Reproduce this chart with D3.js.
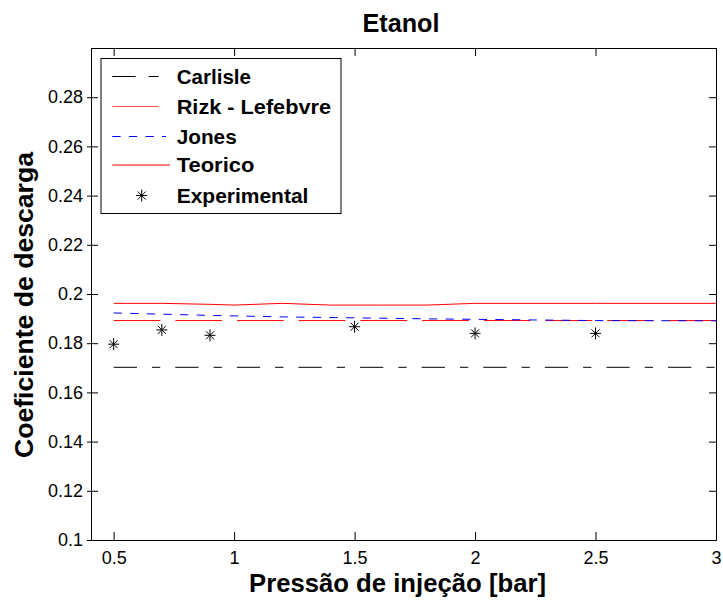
<!DOCTYPE html>
<html>
<head>
<meta charset="utf-8">
<script src="https://cdn.jsdelivr.net/npm/d3@7"></script>
<style>
  html, body { margin: 0; padding: 0; background: #fff; }
  svg { display: block; }
  text { font-family: "Liberation Sans", Arial, sans-serif; }
</style>
</head>
<body>
<svg id="chart" width="723" height="602"></svg>
<script>
// ---------- data ----------
const xTicks = [0.5, 1, 1.5, 2, 2.5, 3];
const yTicks = [0.1, 0.12, 0.14, 0.16, 0.18, 0.2, 0.22, 0.24, 0.26, 0.28];

const carlisleX = [0.5, 3.0];
const carlisleY = [0.1702, 0.1702];

const rizkX = [0.5, 3.0];
const rizkY = [0.1892, 0.1892];

const jonesX = [0.5, 0.7, 0.9, 1.0, 1.2, 1.5, 1.8, 2.0, 2.5, 3.0];
const jonesY = [0.1923, 0.1918, 0.1913, 0.1911, 0.1907, 0.1903, 0.1899, 0.1897, 0.1892, 0.1891];

const teoX = [0.5, 0.7, 0.9, 1.0, 1.2, 1.4, 1.6, 1.8, 2.0, 2.5, 3.0];
const teoY = [0.1962, 0.1962, 0.1958, 0.1955, 0.1962, 0.1955, 0.1955, 0.1955, 0.1962, 0.1962, 0.1962];

const expX = [0.5, 0.7, 0.9, 1.5, 2.0, 2.5];
const expY = [0.1796, 0.1854, 0.1832, 0.1867, 0.1840, 0.1840];

const legendLabels = ["Carlisle", "Rizk - Lefebvre", "Jones", "Teorico", "Experimental"];

// ---------- layout ----------
const svg = d3.select("#chart");
const L = 91, R = 716, T = 48, B = 540;
const x = d3.scaleLinear().domain([0.406, 3]).range([L, R]);
const y = d3.scaleLinear().domain([0.1, 0.3]).range([B, T]);

const toPts = (xs, ys) => xs.map((d, i) => [d, ys[i]]);
const line = d3.line().x(d => x(d[0])).y(d => y(d[1]));

// axes (MATLAB style: ticks inside, box)
const g = svg.append("g");
const axB = g.append("g").attr("transform", `translate(0,${B})`)
  .call(d3.axisBottom(x).tickValues(xTicks).tickSize(-8).tickPadding(11).tickFormat(d3.format("")));
const axT = g.append("g").attr("transform", `translate(0,${T})`)
  .call(d3.axisTop(x).tickValues(xTicks).tickSize(-8).tickFormat(""));
const axL = g.append("g").attr("transform", `translate(${L},0)`)
  .call(d3.axisLeft(y).tickValues(yTicks).tickSize(-7).tickPadding(8).tickFormat(d3.format("")));
const axR = g.append("g").attr("transform", `translate(${R},0)`)
  .call(d3.axisRight(y).tickValues(yTicks).tickSize(-7).tickFormat(""));
[axB, axT, axL, axR].forEach(a => {
  a.select(".domain").attr("stroke", "#000").attr("stroke-width", 1);
  a.selectAll(".tick line").attr("stroke", "#000");
  a.selectAll("text").attr("fill", "#000").attr("font-size", 18)
    .attr("font-family", '"Liberation Sans", Arial, sans-serif');
});
axB.selectAll("text").attr("dy", "0.71em");
// left outer tick stubs
axL.selectAll(".tick").append("line").attr("x1", 0).attr("x2", -4).attr("stroke", "#000");

// series
const plot = svg.append("g");
plot.append("path").datum(toPts(carlisleX, carlisleY)).attr("d", line)
  .attr("fill", "none").attr("stroke", "#000").attr("stroke-width", 1)
  .attr("stroke-dasharray", "23.3,15,8.3,15");
plot.append("path").datum(toPts(rizkX, rizkY)).attr("d", line)
  .attr("fill", "none").attr("stroke", "#ff0000").attr("stroke-width", 1)
  .attr("stroke-dasharray", "46.7,15");
plot.append("path").datum(toPts(teoX, teoY)).attr("d", line)
  .attr("fill", "none").attr("stroke", "#ff0000").attr("stroke-width", 1);
plot.append("path").datum(toPts(jonesX, jonesY)).attr("d", line)
  .attr("fill", "none").attr("stroke", "#0000ff").attr("stroke-width", 1)
  .attr("stroke-dasharray", "8.3,8.3");

function star(sel, cx, cy) {
  const s = sel.append("g").attr("transform", `translate(${cx},${cy})`)
    .attr("stroke", "#000").attr("stroke-width", 1);
  s.append("line").attr("x1", 0).attr("x2", 0).attr("y1", -6).attr("y2", 6);
  s.append("line").attr("x1", -5.5).attr("x2", 5.5).attr("y1", 0).attr("y2", 0);
  s.append("line").attr("x1", -4).attr("x2", 4).attr("y1", -4).attr("y2", 4);
  s.append("line").attr("x1", -4).attr("x2", 4).attr("y1", 4).attr("y2", -4);
}
expX.forEach((d, i) => star(plot, x(d), y(expY[i])));

// legend
const lg = svg.append("g");
lg.append("rect").attr("x", 101).attr("y", 58.5).attr("width", 240).attr("height", 155)
  .attr("fill", "#fff").attr("stroke", "#000").attr("stroke-width", 1);
const rowY = [76.5, 106.5, 136.5, 165, 195.5];
const textW = [74.3, 154.3, 60, 77.7, 131.7];
legendLabels.forEach((lab, i) => {
  lg.append("text").attr("x", 176.7).attr("y", rowY[i]).attr("dy", "0.36em")
    .attr("font-size", 20.5).attr("font-weight", "bold").attr("fill", "#000")
    .attr("textLength", textW[i]).attr("lengthAdjust", "spacingAndGlyphs")
    .text(lab);
});
lg.append("line").attr("x1", 112.3).attr("x2", 158.7).attr("y1", rowY[0]).attr("y2", rowY[0])
  .attr("stroke", "#000").attr("stroke-dasharray", "23.3,13,10.1,15");
lg.append("line").attr("x1", 112.3).attr("x2", 158.7).attr("y1", rowY[1]).attr("y2", rowY[1])
  .attr("stroke", "#ff0000").attr("stroke-opacity", 0.7);
lg.append("line").attr("x1", 112.3).attr("x2", 166).attr("y1", rowY[2]).attr("y2", rowY[2])
  .attr("stroke", "#0000ff").attr("stroke-dasharray", "8.3,8.3");
lg.append("line").attr("x1", 112.3).attr("x2", 170).attr("y1", rowY[3]).attr("y2", rowY[3])
  .attr("stroke", "#ff0000");
star(lg, 141.7, rowY[4]);

// titles
svg.append("text").attr("x", 401).attr("y", 32.3).attr("text-anchor", "middle")
  .attr("font-size", 25).attr("font-weight", "bold").attr("fill", "#000")
  .attr("textLength", 77).attr("lengthAdjust", "spacingAndGlyphs").text("Etanol");
svg.append("text").attr("x", 397.5).attr("y", 592).attr("text-anchor", "middle")
  .attr("font-size", 25).attr("font-weight", "bold").attr("fill", "#000")
  .attr("textLength", 297).attr("lengthAdjust", "spacingAndGlyphs").text("Pressão de injeção [bar]");
svg.append("text").attr("transform", "translate(33.3,305) rotate(-90)").attr("text-anchor", "middle")
  .attr("font-size", 26).attr("font-weight", "bold").attr("fill", "#000")
  .attr("textLength", 306).attr("lengthAdjust", "spacingAndGlyphs").text("Coeficiente de descarga");
</script>
</body>
</html>
